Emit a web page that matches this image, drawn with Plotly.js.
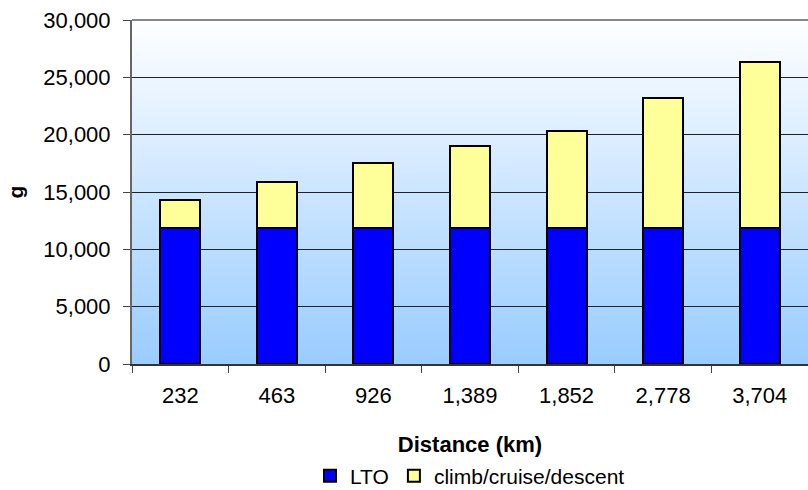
<!DOCTYPE html>
<html>
<head>
<meta charset="utf-8">
<script src="https://cdn.plot.ly/plotly-3.0.1.min.js"></script>
<style>
html,body{margin:0;padding:0;background:#fff;overflow:hidden;}
#chart{width:808px;height:490px;}
</style>
</head>
<body>
<div id="chart"></div>
<script>
const categories = ["232", "463", "926", "1,389", "1,852", "2,778", "3,704"];
const ltoValues = [11850, 11850, 11850, 11850, 11850, 11850, 11850];
const climbValues = [2450, 4050, 5700, 7200, 8500, 11350, 14500];
const seriesNames = ["LTO", "climb/cruise/descent"];
const yTickVals = [0, 5000, 10000, 15000, 20000, 25000, 30000];
const yTickText = ["0", "5,000", "10,000", "15,000", "20,000", "25,000", "30,000"];

const grad = 'data:image/svg+xml;base64,' + btoa(
  '<svg xmlns="http://www.w3.org/2000/svg" width="100" height="100" preserveAspectRatio="none">' +
  '<defs><linearGradient id="g" x1="0" y1="0" x2="0" y2="1">' +
  '<stop offset="0" stop-color="#FFFFFF"/><stop offset="1" stop-color="#99CCFF"/>' +
  '</linearGradient></defs><rect width="100" height="100" fill="url(#g)"/></svg>');

const font = {family: 'Arial, "Liberation Sans", sans-serif', color: '#000'};

const data = [
  {type: 'bar', name: seriesNames[0], x: categories, y: ltoValues,
   marker: {color: '#0000FF', line: {color: '#000', width: 2}}},
  {type: 'bar', name: seriesNames[1], x: categories, y: climbValues,
   marker: {color: '#FFFF99', line: {color: '#000', width: 2}}}
];

const layout = {
  width: 808, height: 490,
  margin: {l: 132, r: 0, t: 20, b: 126, autoexpand: false},
  barmode: 'stack', bargap: 0.586,
  paper_bgcolor: '#fff', plot_bgcolor: 'rgba(0,0,0,0)',
  font: Object.assign({size: 22}, font),
  showlegend: true,
  legend: {orientation: 'h', x: 0.5, xanchor: 'center', y: -0.266, yanchor: 'top',
           font: Object.assign({size: 21}, font), traceorder: 'normal',
           itemwidth: 30, tracegroupgap: 0},
  images: [{source: grad, xref: 'paper', yref: 'paper', x: 0, y: 1, sizex: 1, sizey: 1,
            sizing: 'stretch', layer: 'below', xanchor: 'left', yanchor: 'top'}],
  xaxis: {type: 'category', range: [-0.5, 6.5], tickson: 'boundaries',
          ticks: 'outside', ticklen: 7, tickcolor: '#444', tickwidth: 1,
          ticklabelstandoff: 11,
          showline: true, linecolor: '#333', linewidth: 1.5,
          tickfont: Object.assign({size: 22}, font), showgrid: false,
          title: {text: '<b>Distance (km)</b>', font: Object.assign({size: 22}, font), standoff: 29}},
  yaxis: {range: [0, 30000], tickvals: yTickVals, ticktext: yTickText,
          ticks: 'outside', ticklen: 7, tickcolor: '#444',
          ticklabelstandoff: 8,
          showline: true, linecolor: '#666', linewidth: 2,
          showgrid: true, gridcolor: '#222', gridwidth: 1, zeroline: false,
          tickfont: Object.assign({size: 22}, font),
          title: {text: '<b>g</b>', font: Object.assign({size: 21}, font), standoff: 14}},
  shapes: [{type: 'line', xref: 'paper', yref: 'paper', x0: 0, x1: 1, y0: 1, y1: 1,
            line: {color: '#888', width: 2}}]
};

Plotly.newPlot('chart', data, layout, {staticPlot: true, displayModeBar: false});
</script>
</body>
</html>
